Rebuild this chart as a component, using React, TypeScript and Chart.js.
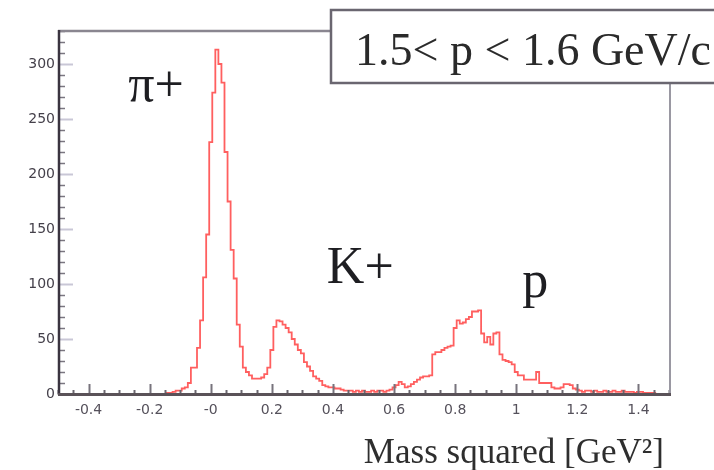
import React, { useEffect, useRef } from "react";
import { Chart, registerables } from "chart.js";

Chart.register(...registerables);

// Histogram definition: bin centres start at -0.20 GeV^2, bin width 0.01 GeV^2
const BIN_FIRST_CENTER = -0.2;
const BIN_WIDTH = 0.01;
const counts: number[] = [
  // -0.20 .. -0.14
  0, 0, 0, 0, 0, 0, 1,
  // -0.13 .. -0.01
  1, 2, 3, 3, 5, 6, 10, 24, 24, 42, 67, 106, 145,
  // 0.00 .. 0.09
  229, 274, 313, 300, 283, 220, 175, 131, 105, 63,
  // 0.10 .. 0.19
  43, 24, 20, 17, 14, 14, 14, 15, 18, 24,
  // 0.20 .. 0.29
  40, 61, 67, 66, 63, 60, 56, 50, 45, 40,
  // 0.30 .. 0.39
  37, 29, 25, 21, 16, 14, 12, 8, 7, 6,
  // 0.40 .. 0.49
  6, 5, 5, 4, 3, 3, 3, 2, 3, 2,
  // 0.50 .. 0.59
  3, 2, 2, 3, 2, 3, 3, 2, 3, 4,
  // 0.60 .. 0.69
  6, 8, 11, 9, 6, 7, 9, 11, 13, 15,
  // 0.70 .. 0.79
  16, 16, 17, 36, 38, 38, 40, 42, 43, 44,
  // 0.80 .. 0.89
  60, 67, 64, 65, 68, 70, 75, 75, 76, 55,
  // 0.90 .. 0.99
  47, 52, 45, 55, 56, 36, 31, 30, 29, 27,
  // 1.00 .. 1.09
  20, 17, 17, 13, 13, 13, 13, 20, 10, 10,
  // 1.10 .. 1.19
  10, 10, 6, 5, 5, 6, 9, 9, 8, 5,
  // 1.20 .. 1.29
  4, 3, 2, 3, 3, 2, 3, 2, 2, 3,
  // 1.30 .. 1.39
  2, 2, 3, 2, 2, 3, 2, 2, 2, 1,
  // 1.40 .. 1.49
  2, 2, 1, 1, 1, 1, 0, 0, 0, 0,
];

const xMin = -0.5;
const xMax = 1.5;
const yMin = 0;
const yMax = 330;
const xTickValues = [-0.4, -0.2, 0, 0.2, 0.4, 0.6, 0.8, 1, 1.2, 1.4];
const xTickLabels = ["-0.4", "-0.2", "-0", "0.2", "0.4", "0.6", "0.8", "1", "1.2", "1.4"];
const yTickValues = [0, 50, 100, 150, 200, 250, 300];
const yTickLabels = ["0", "50", "100", "150", "200", "250", "300"];
const xMinorStep = 0.05;
const yMinorStep = 10;

const momentumText = "1.5< p < 1.6 GeV/c";
const xTitleText = "Mass squared [GeV\u00B2]";
const peakNames = ["\u03C0+", "K+", "p"];
const peakNameX = [-0.27, 0.38, 1.02];
const peakNameY = [266, 101, 88];

const LINE_COLOR = "#ff5f5f";

const decorPlugin = {
  id: "decor",
  afterDraw(chart: any) {
    const { ctx, chartArea: a, scales } = chart;
    const xs = scales.x;
    const ys = scales.y;
    ctx.save();

    // minor + major ticks, drawn inward
    ctx.lineCap = "butt";
    const isMajorX = (v: number) => xTickValues.some((t) => Math.abs(t - v) < 1e-6);
    for (let i = 0; ; i++) {
      const v = xMin + i * xMinorStep;
      if (v > xMax + 1e-9) break;
      const px = Math.round(xs.getPixelForValue(v)) + 0.5;
      const major = isMajorX(v);
      ctx.strokeStyle = major ? "#77737c" : "#6a666f";
      ctx.lineWidth = 2;
      ctx.beginPath();
      ctx.moveTo(px, a.bottom);
      ctx.lineTo(px, a.bottom - (major ? 10 : 4));
      ctx.stroke();
    }
    const isMajorY = (v: number) => yTickValues.some((t) => Math.abs(t - v) < 1e-6);
    for (let i = 0; ; i++) {
      const v = yMin + i * yMinorStep;
      if (v > yMax) break;
      const py = Math.round(ys.getPixelForValue(v)) + 0.5;
      const major = isMajorY(v);
      ctx.strokeStyle = major ? "#c9c7d6" : "#7a7680";
      ctx.lineWidth = major ? 2 : 1.5;
      ctx.beginPath();
      ctx.moveTo(a.left, py);
      ctx.lineTo(a.left + (major ? 15 : 7), py);
      ctx.stroke();
    }

    // frame: top and right (light), left and bottom axes (dark)
    ctx.strokeStyle = "#8a8690";
    ctx.lineWidth = 2.5;
    ctx.beginPath();
    ctx.moveTo(a.left, a.top);
    ctx.lineTo(a.right, a.top);
    ctx.stroke();
    ctx.strokeStyle = "#9a98a2";
    ctx.lineWidth = 2;
    ctx.beginPath();
    ctx.moveTo(a.right + 1, a.top);
    ctx.lineTo(a.right + 1, a.bottom);
    ctx.stroke();
    ctx.strokeStyle = "#3a3440";
    ctx.lineWidth = 2.5;
    ctx.beginPath();
    ctx.moveTo(a.left + 1, a.top - 1);
    ctx.lineTo(a.left + 1, a.bottom + 1);
    ctx.stroke();
    ctx.strokeStyle = "#5a5258";
    ctx.lineWidth = 3;
    ctx.beginPath();
    ctx.moveTo(a.left, a.bottom + 0.5);
    ctx.lineTo(a.right + 2, a.bottom + 0.5);
    ctx.stroke();

    // momentum box (top right, runs off the canvas)
    const bx = 331, by = 10, bh = 73;
    ctx.fillStyle = "#ffffff";
    ctx.fillRect(bx, by, chart.width - bx + 20, bh);
    ctx.strokeStyle = "#6a6670";
    ctx.lineWidth = 2.5;
    ctx.strokeRect(bx, by, chart.width - bx + 20, bh);
    ctx.fillStyle = "#2a2a2a";
    ctx.font = '46px "Liberation Serif"';
    ctx.textAlign = "left";
    ctx.textBaseline = "alphabetic";
    ctx.fillText(momentumText, 355, 65);

    // peak names
    ctx.font = '52px "Liberation Serif"';
    ctx.fillStyle = "#1e1e22";
    for (let i = 0; i < peakNames.length; i++) {
      ctx.fillText(peakNames[i], xs.getPixelForValue(peakNameX[i]), ys.getPixelForValue(peakNameY[i]));
    }

    // x axis title
    ctx.font = '35px "Liberation Serif"';
    ctx.fillStyle = "#2e2e2e";
    ctx.textAlign = "right";
    ctx.fillText(xTitleText, 664, 463);

    ctx.restore();
  },
};

export default function App() {
  const canvasRef = useRef<HTMLCanvasElement | null>(null);

  useEffect(() => {
    const canvas = canvasRef.current;
    if (!canvas) return;
    const points = counts.map((c, i) => ({ x: BIN_FIRST_CENTER + i * BIN_WIDTH, y: c }));
    const chart = new Chart(canvas, {
      type: "line",
      data: {
        datasets: [
          {
            data: points,
            borderColor: LINE_COLOR,
            borderWidth: 1.8,
            pointRadius: 0,
            stepped: "middle",
            fill: false,
          },
        ],
      },
      options: {
        responsive: false,
        animation: false,
        devicePixelRatio: 1,
        layout: { padding: { top: 31, right: 45, left: 0, bottom: 0 } },
        plugins: { legend: { display: false }, tooltip: { enabled: false }, title: { display: false } },
        scales: {
          x: {
            type: "linear",
            min: xMin,
            max: xMax,
            afterBuildTicks: (scale: any) => {
              scale.ticks = xTickValues.map((v) => ({ value: v }));
            },
            afterFit: (scale: any) => {
              scale.height = 76;
            },
            grid: { display: false, drawTicks: false },
            border: { display: false },
            ticks: {
              autoSkip: false,
              maxRotation: 0,
              padding: 8,
              color: "#55515b",
              font: { family: "DejaVu Sans", size: 14 },
              callback: (value: any) => {
                const idx = xTickValues.findIndex((t) => Math.abs(t - Number(value)) < 1e-6);
                return idx >= 0 ? xTickLabels[idx] : "";
              },
            },
          },
          y: {
            type: "linear",
            min: yMin,
            max: yMax,
            afterBuildTicks: (scale: any) => {
              scale.ticks = yTickValues.map((v) => ({ value: v }));
            },
            afterFit: (scale: any) => {
              scale.width = 58;
            },
            grid: { display: false, drawTicks: false },
            border: { display: false },
            ticks: {
              autoSkip: false,
              padding: 3,
              color: "#45414b",
              font: { family: "DejaVu Sans", size: 14 },
              callback: (value: any) => {
                const idx = yTickValues.findIndex((t) => Math.abs(t - Number(value)) < 1e-6);
                return idx >= 0 ? yTickLabels[idx] : "";
              },
            },
          },
        },
      },
      plugins: [decorPlugin],
    });
    return () => chart.destroy();
  }, []);

  return (
    <div style={{ position: "fixed", left: 0, top: 0, width: 714, height: 470, background: "#ffffff" }}>
      <canvas ref={canvasRef} width={714} height={470} />
    </div>
  );
}
